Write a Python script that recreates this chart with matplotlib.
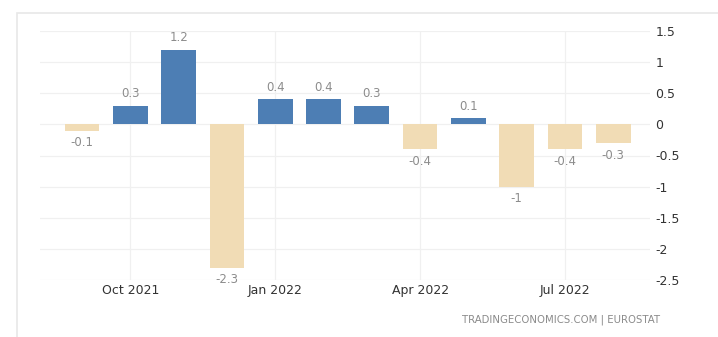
import numpy as np
import matplotlib
matplotlib.use('Agg')
import matplotlib.pyplot as plt
from matplotlib.patches import Rectangle

# monthly change, Sep 2021 .. Aug 2022
months = ['Sep 2021', 'Oct 2021', 'Nov 2021', 'Dec 2021', 'Jan 2022', 'Feb 2022',
          'Mar 2022', 'Apr 2022', 'May 2022', 'Jun 2022', 'Jul 2022', 'Aug 2022']
values = [-0.1, 0.3, 1.2, -2.3, 0.4, 0.4, 0.3, -0.4, 0.1, -1.0, -0.4, -0.3]
tick_months = ['Oct 2021', 'Jan 2022', 'Apr 2022', 'Jul 2022']
yticks = [1.5, 1, 0.5, 0, -0.5, -1, -1.5, -2, -2.5]

BLUE = '#4d7eb4'
TAN = '#f1dcb5'

fig = plt.figure(figsize=(7.18, 3.37), dpi=100)
fig.patches.append(Rectangle((17 / 718, -0.01), 1.0, 1 - 13 / 337 + 0.01,
                             transform=fig.transFigure, fill=False,
                             edgecolor='#e8e8e8', lw=1.2))
ax = fig.add_axes([40 / 718, 1 - 280 / 337, 610 / 718, 249 / 337])

x = np.arange(len(values))
colors = [BLUE if v >= 0 else TAN for v in values]
ax.bar(x, values, width=0.72, color=colors, zorder=2)

for xi, v in zip(x, values):
    lab = f'{v:g}'
    if v >= 0:
        ax.annotate(lab, (xi, v), xytext=(0, 4), textcoords='offset points',
                    ha='center', va='bottom', fontsize=8.5, color='#8c8c8c')
    else:
        ax.annotate(lab, (xi, v), xytext=(0, -4), textcoords='offset points',
                    ha='center', va='top', fontsize=8.5, color='#8c8c8c')

ax.set_xlim(-0.87, 11.76)
ax.set_ylim(-2.5, 1.5)
ax.set_xticks([months.index(m) for m in tick_months])
ax.set_xticklabels(tick_months)
ax.set_yticks(yticks)
ax.set_yticklabels([f'{t:g}' for t in yticks])
ax.yaxis.tick_right()
for lab in ax.get_yticklabels():
    lab.set_horizontalalignment('left')
ax.tick_params(axis='y', length=0, pad=4, labelsize=9, labelcolor='#333333')
ax.tick_params(axis='x', length=0, pad=3, labelsize=9, labelcolor='#333333')
ax.grid(True, color='#f0f0f0', lw=0.9, zorder=0)
for s in ax.spines.values():
    s.set_visible(False)

fig.text(660 / 718, 1 - 320 / 337, 'TRADINGECONOMICS.COM | EUROSTAT',
         ha='right', va='center', fontsize=7.3, color='#8a8a8a')

fig.savefig('out.png', dpi=100)
